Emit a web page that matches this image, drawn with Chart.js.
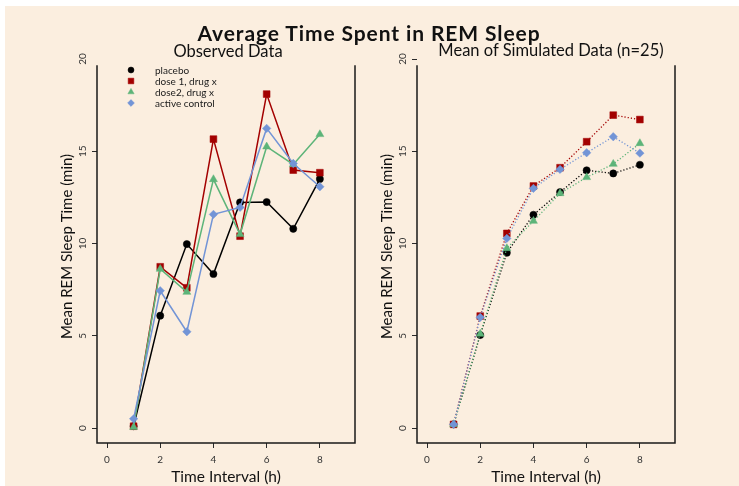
<!DOCTYPE html>
<html>
<head>
<meta charset="utf-8">
<script src="https://cdn.jsdelivr.net/npm/chart.js@4.4.1/dist/chart.umd.min.js"></script>
<style>
  html, body { margin: 0; padding: 0; background: #ffffff; }
  body { width: 739px; height: 486px; position: relative; overflow: hidden; font-family: "Lato", "DejaVu Sans", sans-serif; }
  #bg { position: absolute; left: 5px; top: 6px; width: 734px; height: 480px; background: #FBEEDF; }
  canvas { position: absolute; top: 0; }
  #cLeft { left: 0; }
  #cRight { left: 320px; }
  .ttl { position: absolute; color: #111; white-space: nowrap; transform: translate(-50%, -50%); }
  #mainTitle { left: 369px; top: 32px; font-size: 21px; font-weight: bold; letter-spacing: 0.9px; }
  #subLeft { left: 228px; top: 51px; font-size: 16.5px; }
  #subRight { left: 551px; top: 50px; font-size: 16.5px; }
</style>
</head>
<body>
<div id="bg"></div>
<canvas id="cLeft" width="370" height="486"></canvas>
<canvas id="cRight" width="370" height="486"></canvas>
<div class="ttl" id="mainTitle">Average Time Spent in REM Sleep</div>
<div class="ttl" id="subLeft">Observed Data</div>
<div class="ttl" id="subRight">Mean of Simulated Data (n=25)</div>
<script>
// ---------- data ----------
const hours = [1, 2, 3, 4, 5, 6, 7, 8];
const xTickValues = [0, 2, 4, 6, 8];
const yTickValues = [0, 5, 10, 15, 20];
const seriesNames = ['placebo', 'dose 1, drug x', 'dose2, drug x', 'active control'];

const obsPlacebo = [0.1, 6.09, 9.97, 8.35, 12.23, 12.25, 10.8, 13.5];
const obsDose1   = [0.1, 8.74, 7.6, 15.66, 10.4, 18.1, 13.98, 13.84];
const obsDose2   = [0.05, 8.62, 7.37, 13.48, 10.5, 15.25, 14.29, 15.92];
const obsActive  = [0.5, 7.44, 5.22, 11.58, 11.96, 16.24, 14.34, 13.08];

const simPlacebo = [0.2, 5.04, 9.5, 11.56, 12.79, 13.97, 13.8, 14.27];
const simDose1   = [0.2, 6.07, 10.55, 13.12, 14.11, 15.52, 16.96, 16.72];
const simDose2   = [0.2, 5.1, 9.74, 11.22, 12.72, 13.59, 14.31, 15.43];
const simActive  = [0.2, 6.0, 10.28, 12.99, 14.02, 14.92, 15.79, 14.9];

// ---------- styles ----------
const FONT = '"Lato", "DejaVu Sans", sans-serif';
const colors = ['#000000', '#A30000', '#5DB479', '#7294D6'];
const pointStyles = ['circle', 'rect', 'triangle', 'rectRot'];
const pointRadii = [3.6, 4.8, 4.6, 4.2];
const legendRadii = [3, 4, 3.6, 3.4];

function makeDatasets(seriesList, dotted) {
  return seriesList.map((vals, i) => ({
    label: seriesNames[i],
    data: hours.map((h, k) => ({ x: h, y: vals[k] })),
    borderColor: colors[i],
    backgroundColor: colors[i],
    pointBackgroundColor: colors[i],
    pointBorderColor: colors[i],
    pointStyle: pointStyles[i],
    pointRadius: pointRadii[i],
    pointBorderWidth: 0.5,
    borderWidth: dotted ? 1.3 : 1.5,
    borderDash: dotted ? [1.2, 2] : [],
    tension: 0,
    order: 3 - i,
    legendRadius: legendRadii[i]
  }));
}

const framePlugin = {
  id: 'rframe',
  beforeDatasetsDraw(chart, args, opts) {
    const { ctx, chartArea: a, scales } = chart;
    const top = scales.y.getPixelForValue(opts.topValue);
    ctx.save();
    ctx.strokeStyle = '#1a1a1a';
    ctx.lineWidth = 1.5;
    ctx.beginPath();
    ctx.moveTo(a.left, top);
    ctx.lineTo(a.left, a.bottom);
    ctx.lineTo(a.right, a.bottom);
    ctx.lineTo(a.right, top);
    ctx.stroke();
    ctx.restore();
  }
};

const keyPlugin = {
  id: 'rkey',
  afterDraw(chart, args, opts) {
    if (!opts.show) return;
    const { ctx, chartArea: a } = chart;
    ctx.save();
    chart.data.datasets.forEach((ds, i) => {
      const yy = a.top + 20 + i * 11;
      ctx.fillStyle = ds.backgroundColor;
      ctx.strokeStyle = ds.borderColor;
      ctx.lineWidth = 0.5;
      Chart.helpers.drawPoint(ctx, { pointStyle: ds.pointStyle, radius: ds.legendRadius, borderWidth: 0.5, rotation: 0 }, a.left + 34, yy);
      ctx.fillStyle = '#1a1a1a';
      ctx.font = '10px ' + FONT;
      ctx.textBaseline = 'middle';
      ctx.textAlign = 'left';
      ctx.fillText(ds.label, a.left + 58, yy + 0.5);
    });
    ctx.restore();
  }
};

function makeChart(canvasId, seriesList, dotted, showKey, hideTopTick) {
  return new Chart(document.getElementById(canvasId), {
    type: 'line',
    data: { datasets: makeDatasets(seriesList, dotted) },
    plugins: [framePlugin, keyPlugin],
    options: {
      responsive: false,
      animation: false,
      devicePixelRatio: 1,
      layout: { padding: { left: 50, right: 15, top: 50, bottom: 0 } },
      plugins: {
        legend: { display: false },
        tooltip: { enabled: false },
        title: { display: false },
        rframe: { topValue: 19.67 },
        rkey: { show: showKey }
      },
      scales: {
        x: {
          type: 'linear',
          min: -0.376,
          max: 9.32,
          afterBuildTicks: s => { s.ticks = xTickValues.map(v => ({ value: v })); },
          afterFit: s => { s.height = 43; },
          grid: { drawOnChartArea: false, tickLength: 5, color: '#2a2a2a', lineWidth: 1 },
          border: { display: false },
          ticks: { color: '#333', font: { family: FONT, size: 10 }, padding: 6, maxRotation: 0, autoSkip: false },
          title: { display: true, text: 'Time Interval (h)', color: '#111', font: { family: FONT, size: 15.5 }, padding: 0 }
        },
        y: {
          type: 'linear',
          min: -0.81,
          max: 20.49,
          afterBuildTicks: s => { s.ticks = yTickValues.map(v => ({ value: v })); },
          afterFit: s => { s.width = 47; },
          grid: {
            drawOnChartArea: false, tickLength: 5, lineWidth: 1,
            color: c => (hideTopTick && c.tick && c.tick.value === 20) ? 'rgba(0,0,0,0)' : '#2a2a2a'
          },
          border: { display: false },
          ticks: { color: '#333', font: { family: FONT, size: 10 }, padding: 3, minRotation: 90, maxRotation: 90, crossAlign: 'center', autoSkip: false },
          title: { display: true, text: 'Mean REM Sleep Time (min)', color: '#111', font: { family: FONT, size: 15 }, padding: { top: 8, bottom: 0 } }
        }
      }
    }
  });
}

makeChart('cLeft', [obsPlacebo, obsDose1, obsDose2, obsActive], false, true, true);
makeChart('cRight', [simPlacebo, simDose1, simDose2, simActive], true, false, false);
</script>
</body>
</html>
